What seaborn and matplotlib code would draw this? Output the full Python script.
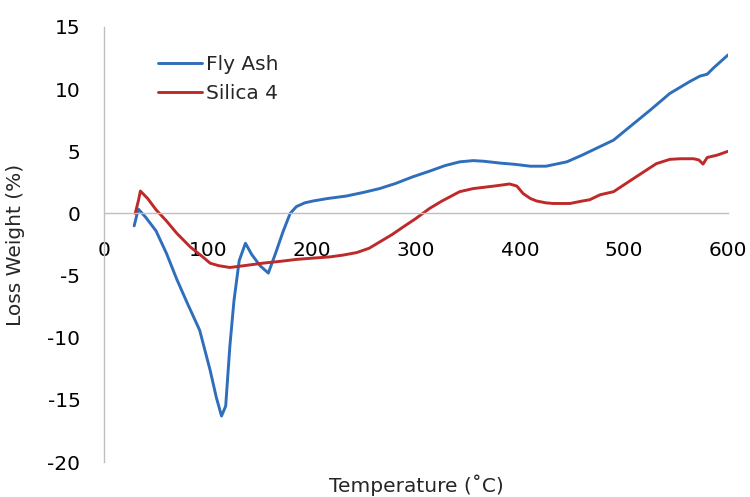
import pandas as pd
import seaborn as sns
from matplotlib import pyplot as plt

# Fly Ash curve
fly_temp = [29, 33, 40, 50, 60, 70, 80, 92, 102, 108, 113, 117, 121, 125, 130,
            136, 142, 150, 158, 165, 172, 179, 185, 193, 201, 215, 233, 250,
            265, 280, 297, 313, 328, 342, 355, 365, 381, 395, 410, 425, 445,
            460, 475, 490, 506, 525, 544, 563, 573, 580, 586, 600]
fly_loss = [-1.0, 0.35, -0.3, -1.4, -3.2, -5.3, -7.2, -9.4, -12.6, -14.8, -16.3,
            -15.5, -10.7, -7.0, -3.8, -2.4, -3.3, -4.2, -4.8, -3.2, -1.5, 0.0,
            0.55, 0.85, 1.0, 1.2, 1.4, 1.7, 2.0, 2.4, 2.95, 3.4, 3.85, 4.15,
            4.25, 4.2, 4.05, 3.95, 3.8, 3.8, 4.15, 4.7, 5.3, 5.9, 7.0, 8.3,
            9.65, 10.6, 11.05, 11.2, 11.7, 12.75]

# Silica 4 curve
sil_temp = [30, 33, 35, 42, 50, 60, 70, 83, 95, 102, 110, 121, 135, 153, 170,
            185, 200, 217, 230, 243, 255, 265, 277, 288, 300, 313, 325, 342,
            355, 365, 375, 390, 397, 403, 410, 416, 425, 432, 448, 460, 467,
            477, 490, 509, 520, 531, 544, 554, 567, 572, 576, 580, 590, 600]
sil_loss = [0.0, 1.0, 1.8, 1.2, 0.3, -0.6, -1.6, -2.7, -3.5, -4.0, -4.2, -4.35,
            -4.2, -4.0, -3.85, -3.7, -3.6, -3.5, -3.35, -3.15, -2.8, -2.3, -1.7,
            -1.07, -0.4, 0.4, 1.0, 1.75, 2.0, 2.1, 2.2, 2.37, 2.2, 1.6, 1.2, 1.0,
            0.85, 0.8, 0.8, 1.0, 1.1, 1.5, 1.75, 2.8, 3.4, 4.0, 4.35, 4.4, 4.4,
            4.3, 3.97, 4.5, 4.7, 5.0]

x_ticks = [0, 100, 200, 300, 400, 500, 600]
y_ticks = [-20, -15, -10, -5, 0, 5, 10, 15]

df = pd.concat([
    pd.DataFrame({"temp": fly_temp, "loss": fly_loss, "sample": "Fly Ash"}),
    pd.DataFrame({"temp": sil_temp, "loss": sil_loss, "sample": "Silica 4"}),
])

sns.set_style("white")
plt.rcParams['font.family'] = ['DejaVu Sans']
plt.rcParams['axes.unicode_minus'] = False

fig = plt.figure(figsize=(7.5, 4.97), dpi=100)
ax = fig.add_axes([104 / 750, 1 - 462 / 497, 624 / 750, 435 / 497])

sns.lineplot(data=df, x="temp", y="loss", hue="sample", sort=False,
             estimator=None, palette=["#2F6EBA", "#BE2A2A"], linewidth=2.1,
             ax=ax)

ax.set_xlim(0, 600)
ax.set_ylim(-20, 15)
ax.set_xticks(x_ticks)
ax.set_yticks(y_ticks)
ax.tick_params(axis="both", length=0, labelsize=14.5, colors="black")
ax.tick_params(axis="y", pad=17)
ax.tick_params(axis="x", pad=20)

for s in ["top", "right"]:
    ax.spines[s].set_visible(False)
ax.spines["bottom"].set_position(("data", 0))
ax.spines["bottom"].set_color("#BFBFBF")
ax.spines["left"].set_color("#BFBFBF")
ax.spines["bottom"].set_linewidth(1.0)
ax.spines["left"].set_linewidth(1.0)

ax.set_ylabel("Loss Weight (%)", fontsize=14.5)
ax.yaxis.set_label_coords(-(104 - 25) / 624, 0.5)
ax.set_xlabel("Temperature (˚C)", fontsize=14.5, va="center")
ax.xaxis.set_label_coords(0.5, -23 / 435)

ax.legend(loc="upper left", bbox_to_anchor=((158 - 104) / 624, (462 - 55) / 435),
          frameon=False, fontsize=14.5, handlelength=2.2, handletextpad=0.2,
          labelspacing=0.5, borderpad=0, borderaxespad=0, title=None)

fig.savefig("out.png", dpi=100)
